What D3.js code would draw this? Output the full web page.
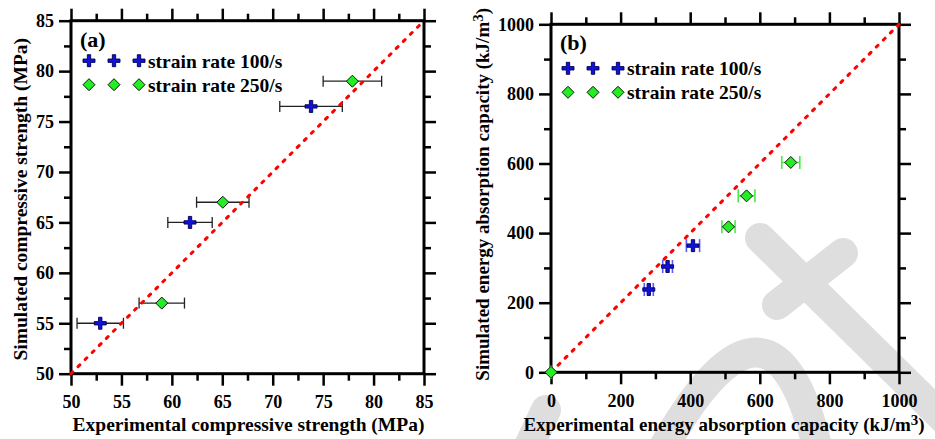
<!DOCTYPE html>
<html>
<head>
<meta charset="utf-8">
<script src="https://cdn.jsdelivr.net/npm/d3@7"></script>
<style>
  body { margin: 0; background: #fff; }
  svg { display: block; }
  text { font-family: "Liberation Serif", "Times New Roman", serif; font-weight: bold; fill: #000; }
</style>
</head>
<body>
<div id="chart"></div>
<script>
// data
const seriesNames = ['strain rate 100/s', 'strain rate 250/s'];

// (a) compressive strength, MPa
const compTicks = [50, 55, 60, 65, 70, 75, 80, 85];
const compExp100 = [52.9, 61.8, 73.8];
const compErr100 = [2.3, 2.2, 3.1];
const compSim100 = [55, 65, 76.5];
const compExp250 = [59.0, 65.05, 77.9];
const compErr250 = [2.25, 2.6, 2.9];
const compSim250 = [57, 67, 79];

// (b) energy absorption capacity, kJ/m3
const energyTicks = [0, 200, 400, 600, 800, 1000];
const energyExp100 = [281, 335, 408];
const energyErr100 = [13, 14, 19];
const energySim100 = [238, 304, 364];
const energyExp250 = [0, 510, 562, 689];
const energyErr250 = [0, 19, 24, 26];
const energySim250 = [0, 418, 507, 603];

const W = 935, H = 439;

const svg = d3.select('#chart')
  .append('svg')
  .attr('width', W)
  .attr('height', H);

// faint watermark behind everything
const wm = svg.append('g')
  .attr('fill', 'none')
  .attr('stroke', '#dedede')
  .attr('stroke-width', 30)
  .attr('stroke-linecap', 'round');
wm.append('path').attr('d', 'M760,238 L950,425');
wm.append('path').attr('d', 'M777,305 L843,253');
wm.append('path').attr('d', 'M662,450 Q772,255 818,450');
wm.append('path').attr('d', 'M527,450 L546,410');

function plusPath(s) {
  const a = s, b = s * 0.28;
  return `M${-b},${-a}H${b}V${-b}H${a}V${b}H${b}V${a}H${-b}V${b}H${-a}V${-b}H${-b}Z`;
}

function drawMarker(g, kind, x, y) {
  if (kind === 'plus') {
    g.append('path')
      .attr('transform', `translate(${x},${y})`)
      .attr('d', plusPath(6))
      .attr('fill', '#1010e0')
      .attr('stroke', '#00004a')
      .attr('stroke-width', 0.9);
  } else {
    g.append('path')
      .attr('transform', `translate(${x},${y})`)
      .attr('d', 'M0,-6L6,0L0,6L-6,0Z')
      .attr('fill', '#22ee22')
      .attr('stroke', '#111')
      .attr('stroke-width', 1);
  }
}

function drawPanel(p) {
  const x = d3.scaleLinear().domain(p.domain).range([p.left, p.right]);
  const y = d3.scaleLinear().domain(p.domain).range([p.bottom, p.top]);
  const g = svg.append('g');

  const step = p.ticks[1] - p.ticks[0];
  const minor = d3.range(p.domain[0] + step / 2, p.domain[1], step);

  // major + minor ticks on all four sides
  const sides = [
    { axis: d3.axisBottom, scale: x, tr: `translate(0,${p.bottom})`, labels: true, pad: 10 },
    { axis: d3.axisLeft, scale: y, tr: `translate(${p.left},0)`, labels: true, pad: 5 },
    { axis: d3.axisTop, scale: x, tr: `translate(0,${p.top})`, labels: false, pad: 6 },
    { axis: d3.axisRight, scale: y, tr: `translate(${p.right},0)`, labels: false, pad: 6 }
  ];
  sides.forEach(s => {
    const major = g.append('g')
      .attr('transform', s.tr)
      .call(s.axis(s.scale).tickValues(p.ticks).tickSize(12).tickSizeOuter(0).tickPadding(s.pad)
        .tickFormat(s.labels ? d3.format('d') : ''));
    major.select('.domain').remove();
    major.selectAll('line').attr('stroke', '#000').attr('stroke-width', 2.5);
    major.selectAll('text')
      .style('font-family', '"Liberation Serif", serif')
      .style('font-weight', 'bold')
      .style('font-size', '18px')
      .attr('fill', '#000');

    const mn = g.append('g')
      .attr('transform', s.tr)
      .call(s.axis(s.scale).tickValues(minor).tickSize(7).tickSizeOuter(0).tickFormat(''));
    mn.select('.domain').remove();
    mn.selectAll('line').attr('stroke', '#000').attr('stroke-width', 2.5);
  });

  // frame
  g.append('rect')
    .attr('x', p.left)
    .attr('y', p.top)
    .attr('width', p.right - p.left)
    .attr('height', p.bottom - p.top)
    .attr('fill', 'none')
    .attr('stroke', '#000')
    .attr('stroke-width', 3);

  // error bars
  p.series.forEach(s => {
    s.exp.forEach((v, i) => {
      const lo = x(v - s.err[i]), hi = x(v + s.err[i]), yy = y(s.sim[i]);
      g.append('line')
        .attr('x1', lo).attr('x2', hi).attr('y1', yy).attr('y2', yy)
        .attr('stroke', s.errColor).attr('stroke-width', p.errWidth);
      [lo, hi].forEach(xx => {
        g.append('line')
          .attr('x1', xx).attr('x2', xx)
          .attr('y1', yy - p.cap / 2).attr('y2', yy + p.cap / 2)
          .attr('stroke', s.errColor).attr('stroke-width', p.errWidth);
      });
    });
  });

  // y = x reference line
  g.append('line')
    .attr('x1', x(p.domain[0])).attr('y1', y(p.domain[0]))
    .attr('x2', x(p.domain[1])).attr('y2', y(p.domain[1]))
    .attr('stroke', '#ff0000')
    .attr('stroke-width', 3)
    .attr('stroke-linecap', 'round')
    .attr('stroke-dasharray', '2.5,7.5');

  // markers
  p.series.forEach(s => {
    s.exp.forEach((v, i) => drawMarker(g, s.kind, x(v), y(s.sim[i])));
  });

  // panel label
  g.append('text')
    .attr('x', p.left + 9)
    .attr('y', p.top + 26)
    .style('font-size', '22px')
    .text(p.label);

  // legend: three markers then the name
  p.series.forEach((s, i) => {
    const ly = p.top + p.legendTop + i * 24;
    [0, 25, 50].forEach(dx => drawMarker(g, s.kind, p.left + p.legendLeft + dx, ly));
    g.append('text')
      .attr('x', p.left + p.legendLeft + 59)
      .attr('y', ly)
      .attr('dy', '0.35em')
      .style('font-size', '19.5px')
      .text(seriesNames[i]);
  });

  // axis titles
  const xt = g.append('text')
    .attr('x', (p.left + p.right) / 2 + p.xTitleShift)
    .attr('y', 431)
    .attr('text-anchor', 'middle')
    .style('font-size', p.titleSize)
    .text(p.xTitle);
  if (p.unitSup) {
    xt.append('tspan').text(p.unitSup).attr('dy', -6).style('font-size', '15px');
    xt.append('tspan').text(')').attr('dy', 6);
  }

  const yt = g.append('text')
    .attr('transform', `translate(${p.yTitleX},${(p.top + p.bottom) / 2 + p.yTitleShift}) rotate(-90)`)
    .attr('text-anchor', 'middle')
    .style('font-size', p.titleSize)
    .text(p.yTitle);
  if (p.unitSup) {
    yt.append('tspan').text(p.unitSup).attr('dy', -6).style('font-size', '15px');
    yt.append('tspan').text(')').attr('dy', 6);
  }
}

drawPanel({
  label: '(a)',
  domain: [50, 85],
  ticks: compTicks,
  left: 71, right: 424, top: 20.7, bottom: 373.7,
  cap: 11, errWidth: 1.3,
  legendLeft: 18, legendTop: 40,
  titleSize: '19.5px',
  xTitle: 'Experimental compressive strength (MPa)',
  yTitle: 'Simulated compressive strength (MPa)',
  xTitleShift: 1, yTitleX: 27, yTitleShift: 2,
  series: [
    { kind: 'plus', exp: compExp100, err: compErr100, sim: compSim100, errColor: '#222' },
    { kind: 'diamond', exp: compExp250, err: compErr250, sim: compSim250, errColor: '#222' }
  ]
});

drawPanel({
  label: '(b)',
  domain: [0, 1000],
  ticks: energyTicks,
  left: 551, right: 899, top: 24.3, bottom: 372.3,
  cap: 13, errWidth: 1.6,
  legendLeft: 17, legendTop: 44,
  titleSize: '19px',
  xTitle: 'Experimental energy absorption capacity (kJ/m',
  yTitle: 'Simulated energy absorption capacity (kJ/m',
  unitSup: '3',
  xTitleShift: -1, yTitleX: 489, yTitleShift: -4,
  series: [
    { kind: 'plus', exp: energyExp100, err: energyErr100, sim: energySim100, errColor: '#5a5aff' },
    { kind: 'diamond', exp: energyExp250, err: energyErr250, sim: energySim250, errColor: '#44ee44' }
  ]
});
</script>
</body>
</html>
